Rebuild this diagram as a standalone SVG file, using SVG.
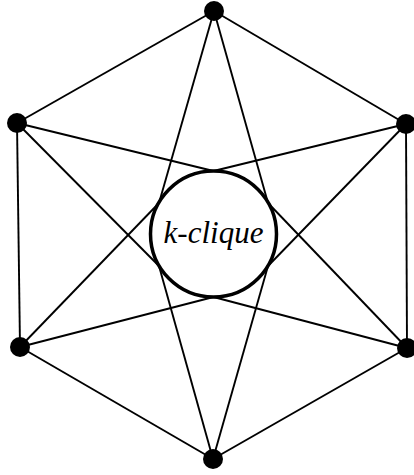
<svg xmlns="http://www.w3.org/2000/svg" width="414" height="475" viewBox="0 0 414 475">
<style>
.e{stroke:#000;stroke-width:1.9;fill:none}
.n{fill:#000}
</style>
<rect width="414" height="475" fill="#fff"/>
<g id="connectors">
<line class="e" x1="214" y1="11" x2="17" y2="123"/>
<line class="e" x1="214" y1="11" x2="406" y2="124"/>
<line class="e" x1="17" y1="123" x2="20" y2="347"/>
<line class="e" x1="406" y1="124" x2="407" y2="348"/>
<line class="e" x1="20" y1="347" x2="213" y2="459"/>
<line class="e" x1="407" y1="348" x2="213" y2="459"/>
<line class="e" x1="214" y1="11" x2="159" y2="203"/>
<line class="e" x1="214" y1="11" x2="268" y2="203"/>
<line class="e" x1="17" y1="123" x2="213.5" y2="171"/>
<line class="e" x1="17" y1="123" x2="159" y2="266"/>
<line class="e" x1="406" y1="124" x2="213.5" y2="171"/>
<line class="e" x1="406" y1="124" x2="268" y2="266"/>
<line class="e" x1="20" y1="347" x2="159" y2="203"/>
<line class="e" x1="20" y1="347" x2="213.5" y2="297"/>
<line class="e" x1="407" y1="348" x2="268" y2="203"/>
<line class="e" x1="407" y1="348" x2="213.5" y2="297"/>
<line class="e" x1="213" y1="459" x2="159" y2="266"/>
<line class="e" x1="213" y1="459" x2="268" y2="266"/>
</g>
<g id="clique">
<circle cx="213.5" cy="234" r="63" fill="#fff" stroke="#000" stroke-width="3.5"/>
<text x="213.5" y="243" font-family="Liberation Serif, serif" font-style="italic" font-size="31" text-anchor="middle" fill="#000">k-clique</text>
</g>
<g id="n1"><circle class="n" cx="214" cy="11" r="10"/></g>
<g id="n2"><circle class="n" cx="17" cy="123" r="10"/></g>
<g id="n3"><circle class="n" cx="406" cy="124" r="10"/></g>
<g id="n4"><circle class="n" cx="20" cy="347" r="10"/></g>
<g id="n5"><circle class="n" cx="407" cy="348" r="10"/></g>
<g id="n6"><circle class="n" cx="213" cy="459" r="10"/></g>
</svg>
